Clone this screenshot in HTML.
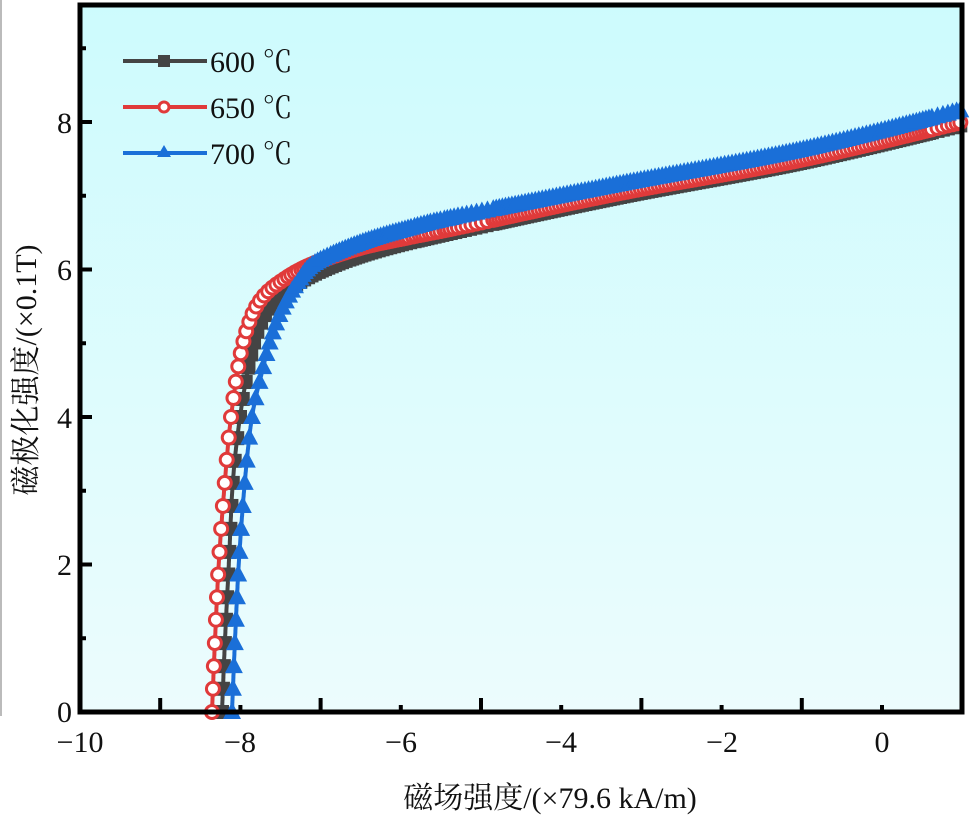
<!DOCTYPE html>
<html><head><meta charset="utf-8"><style>
html,body{margin:0;padding:0;background:#fff;}
svg{display:block;}
text{font-family:"Liberation Serif","Noto Serif CJK SC",serif;fill:#111;}
</style></head><body>
<svg id="s" width="974" height="824" xmlns="http://www.w3.org/2000/svg">
<defs><linearGradient id="g" x1="0" y1="0" x2="0" y2="1">
<stop offset="0" stop-color="#cdfbfd"/><stop offset="1" stop-color="#ecfcfd"/></linearGradient></defs>
<line x1="1" y1="0" x2="1" y2="716" stroke="#bbb" stroke-width="2"/>
<rect x="80" y="5" width="882" height="707" fill="url(#g)"/>
<g id="curves"></g>
<rect x="80" y="5" width="882" height="707" fill="none" stroke="#000" stroke-width="5"/>
<g id="ticks" stroke="#000" stroke-width="4"></g>
<g font-size="30" text-anchor="end">
<text x="72" y="722">0</text><text x="72" y="575">2</text><text x="72" y="428">4</text><text x="72" y="280">6</text><text x="72" y="133">8</text>
</g>
<g font-size="30" text-anchor="middle">
<text x="80" y="752">−10</text><text x="240" y="752">−8</text><text x="401" y="752">−6</text><text x="561" y="752">−4</text><text x="722" y="752">−2</text><text x="882" y="752">0</text>
</g>
<text x="550" y="808" font-size="30" text-anchor="middle">磁场强度/(×79.6 kA/m)</text>
<text transform="translate(36,370) rotate(-90)" font-size="30" text-anchor="middle">磁极化强度/(×0.1T)</text>
<g stroke-width="4">
<line x1="123" y1="61" x2="207" y2="61" stroke="#444"/><rect x="158" y="55" width="12" height="12" fill="#444"/>
<line x1="123" y1="107" x2="207" y2="107" stroke="#e03a3a"/><circle cx="164" cy="107" r="5" fill="#fff" stroke="#e03a3a" stroke-width="3"/>
<line x1="123" y1="153" x2="207" y2="153" stroke="#1a6fd8"/><path d="M164 145 L171 157 L157 157Z" fill="#1a6fd8"/>
</g>
<g font-size="30"><text x="210" y="72">600 ℃</text><text x="210" y="118">650 ℃</text><text x="210" y="164">700 ℃</text></g>
</svg>
<script>
var NS="http://www.w3.org/2000/svg";
function el(t,a,p){var e=document.createElementNS(NS,t);for(var k in a)e.setAttribute(k,a[k]);p.appendChild(e);return e;}
var tk=document.getElementById('ticks');
for(var v=-10;v<=1;v++){var x=80+(v+10)*80.2;var L=(v%2!==0)?14:7;el('line',{x1:x,y1:712,x2:x,y2:712-L},tk);}
for(var m=1;m<=9;m++){var y=712-m*73.75;var L=(m%2===0)?12:6;el('line',{x1:80,y1:y,x2:80+L,y2:y},tk);}
function cr(p){var o=[];for(var i=0;i<p.length-1;i++){var p0=p[Math.max(0,i-1)],p1=p[i],p2=p[i+1],p3=p[Math.min(p.length-1,i+2)];for(var t=0;t<1;t+=0.02){var t2=t*t,t3=t2*t;var f=function(a,b,c,d){return 0.5*((2*b)+(-a+c)*t+(2*a-5*b+4*c-d)*t2+(-a+3*b-3*c+d)*t3);};o.push([f(p0[0],p1[0],p2[0],p3[0]),f(p0[1],p1[1],p2[1],p3[1])]);}}o.push(p[p.length-1]);return o;}
var S=[
{c:"#444",m:"sq",p:[[222,712],[225,640],[229,560],[233,480],[240,417],[249,365],[258,330],[272,305],[295,285],[330,267],[380,250],[460,231],[620,197],[800,163],[962,125]]},
{c:"#e03a3a",m:"ci",p:[[212,712],[215,640],[219,560],[225,480],[231,417],[240,357],[250,320],[262,298],[280,282],[310,265],[360,248],[410,237],[460,227],[620,193],[800,160],[962,122]]},
{c:"#1a6fd8",m:"tr",p:[[232,712],[235,640],[239,560],[245,480],[252,417],[262,372],[272,335],[284,305],[298,282],[315,263],[360,243],[410,228],[460,216],[620,184],[800,150],[962,110]]}];
var G=document.getElementById('curves');
S.forEach(function(s){var pts=cr(s.p);
el('polyline',{points:pts.map(function(q){return q[0].toFixed(1)+','+q[1].toFixed(1)}).join(' '),fill:'none',stroke:s.c,'stroke-width':4},G);
var acc=0,next=0;
for(var i=0;i<pts.length;i++){if(i>0){acc+=Math.hypot(pts[i][0]-pts[i-1][0],pts[i][1]-pts[i-1][1]);}
if(acc>=next){var x=pts[i][0],y=pts[i][1];var M=(712-y)/73.75;
if(s.m=="sq")el('rect',{x:x-7,y:y-7,width:14,height:14,fill:s.c},G);
else if(s.m=="ci")el('circle',{cx:x,cy:y,r:6.5,fill:'#fff',stroke:s.c,'stroke-width':3},G);
else el('path',{d:'M'+x+' '+(y-10)+' L'+(x+9)+' '+(y+7)+' L'+(x-9)+' '+(y+7)+'Z',fill:s.c},G);
var sp=M<3.5?22:(M<6?22-(M-3.5)*7.6:3);next=acc+Math.max(3,sp);}}
});
</script>
</body></html>
